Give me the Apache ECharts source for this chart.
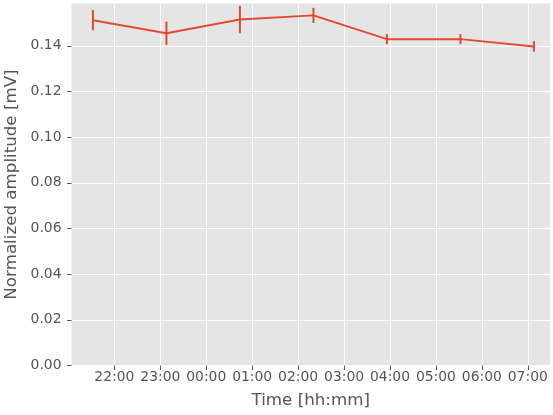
<!DOCTYPE html>
<html>
<head>
<meta charset="utf-8">
<script src="https://cdn.jsdelivr.net/npm/echarts@6/dist/echarts.min.js"></script>
<style>html,body{margin:0;padding:0;background:#fff;}#c{width:553px;height:415px;}</style>
</head>
<body>
<div id="c"></div>
<script>
// Times of measurements (hh:mm), crossing midnight
const times = ["21:32", "23:08", "00:44", "02:20", "03:56", "05:32", "07:08"];
// Normalized amplitude [mV]
const amplitude = [0.1512, 0.1455, 0.1515, 0.1533, 0.1429, 0.1429, 0.1397];
// Error (half-length of error bar) [mV]
const errors = [0.0044, 0.0051, 0.0060, 0.0033, 0.0022, 0.0022, 0.0023];
// X tick labels
const xTickLabels = ["22:00", "23:00", "00:00", "01:00", "02:00", "03:00", "04:00", "05:00", "06:00", "07:00"];
// Y tick values
const yTicks = [0.00, 0.02, 0.04, 0.06, 0.08, 0.10, 0.12, 0.14];

// convert hh:mm to minutes since 21:00 (night crossing midnight)
function toMin(s) {
  const p = s.split(':');
  let h = parseInt(p[0], 10), m = parseInt(p[1], 10);
  if (h < 12) h += 24;
  return (h - 21) * 60 + m;
}
const xTickValues = xTickLabels.map(toMin);
const labelMap = {};
xTickValues.forEach((v, i) => { labelMap[v] = xTickLabels[i]; });

const lineData = times.map((t, i) => [toMin(t), amplitude[i]]);
const errData = times.map((t, i) => [toMin(t), amplitude[i] - errors[i], amplitude[i] + errors[i]]);

const color = '#E24A33';
const font = 'DejaVu Sans';
const chart = echarts.init(document.getElementById('c'), null, {renderer: 'canvas'});
chart.setOption({
  animation: false,
  backgroundColor: '#ffffff',
  grid: {
    left: 71.5, top: 3.5, right: 3, bottom: 49.5,
    outerBoundsMode: 'none',
    containLabel: false,
    show: true, backgroundColor: '#E5E5E5', borderWidth: 0
  },
  xAxis: {
    type: 'value',
    min: 4, max: 629,
    name: 'Time [hh:mm]',
    nameLocation: 'middle',
    nameGap: 27,
    nameTextStyle: {fontFamily: font, fontSize: 16.7, color: '#555555'},
    axisLine: {show: false},
    axisTick: {show: true, customValues: xTickValues, length: 4.5, lineStyle: {color: '#555555', width: 1}},
    axisLabel: {
      customValues: xTickValues,
      margin: 5,
      fontFamily: font, fontSize: 13.9, color: '#555555',
      formatter: v => labelMap[v] || ''
    },
    splitLine: {show: true, lineStyle: {color: '#ffffff', width: 1}}
  },
  yAxis: {
    type: 'value',
    min: 0, max: 0.1585,
    name: 'Normalized amplitude [mV]',
    nameLocation: 'middle',
    nameGap: 40,
    nameTextStyle: {fontFamily: font, fontSize: 16.7, color: '#555555'},
    axisLine: {show: false},
    axisTick: {show: true, customValues: yTicks, length: 4.5, lineStyle: {color: '#555555', width: 1}},
    axisLabel: {
      customValues: yTicks,
      margin: 10,
      fontFamily: font, fontSize: 13.9, color: '#555555',
      formatter: v => v.toFixed(2)
    },
    splitLine: {show: true, lineStyle: {color: '#ffffff', width: 1}}
  },
  series: [
    {
      type: 'line',
      data: lineData,
      showSymbol: false,
      symbol: 'none',
      lineStyle: {color: color, width: 2},
      z: 3
    },
    {
      type: 'custom',
      data: errData,
      z: 4,
      renderItem: function (params, api) {
        const x = api.value(0);
        const lo = api.coord([x, api.value(1)]);
        const hi = api.coord([x, api.value(2)]);
        return {
          type: 'line',
          shape: {x1: lo[0], y1: lo[1], x2: hi[0], y2: hi[1]},
          style: {stroke: color, lineWidth: 2}
        };
      }
    }
  ]
});
</script>
</body>
</html>
